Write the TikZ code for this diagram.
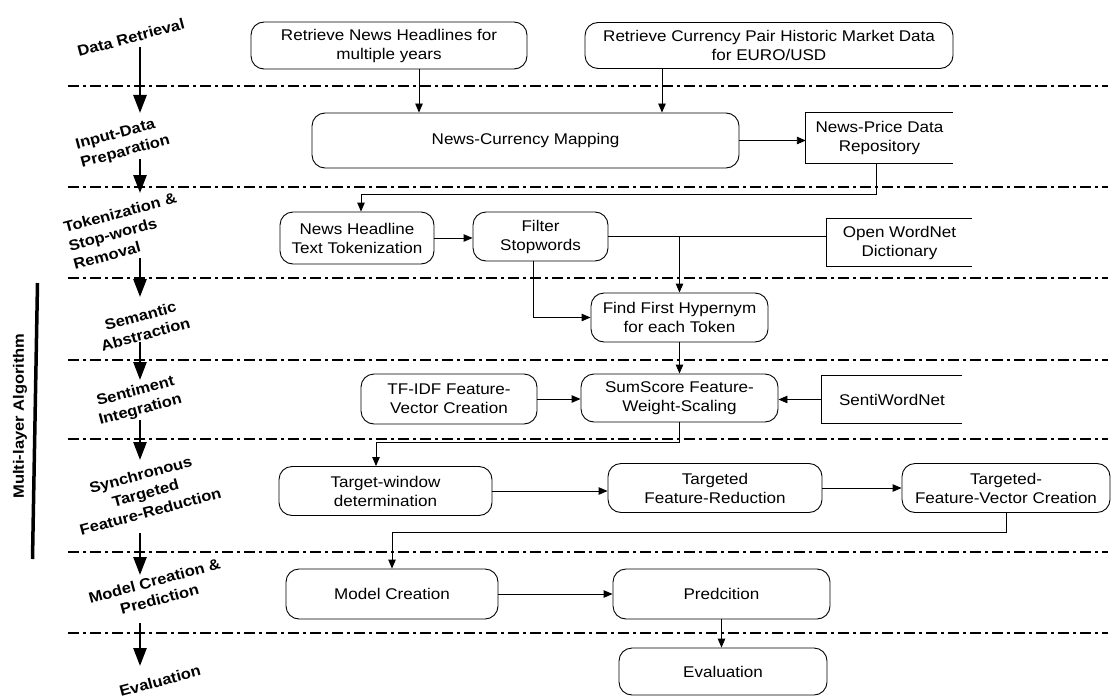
\documentclass[tikz,border=0pt]{standalone}
\usepackage{fontspec}
\setmainfont{Liberation Sans}[FakeStretch=1.1]
\usetikzlibrary{arrows.meta,calc}
\newcommand\storeline[1]{\draw[link] (#1.north east) -- (#1.north west) -- (#1.south west) -- (#1.south east);}
\begin{document}
\begin{tikzpicture}[x=1pt,y=-1pt,
  box/.style={draw, rounded corners=13pt, line width=0.9pt, align=center, font=\fontsize{15.5}{19}\selectfont, inner sep=2pt},
  store/.style={align=center, font=\fontsize{15.5}{19}\selectfont, inner sep=2pt},
  arr/.style={-{Triangle[length=9pt,width=7.5pt]}, line width=0.9pt},
  link/.style={line width=0.9pt},
  sep/.style={line width=1.1pt, dash pattern=on 11pt off 4pt on 3pt off 4pt},
  stage/.style={font=\bfseries\fontsize{15}{19}\selectfont, rotate=15, inner sep=0pt},
  bigarr/.style={-{Triangle[length=18pt,width=13pt]}, line width=2.6pt}]
\useasboundingbox (0,0) rectangle (1115,698);

% separators
\foreach \yy in {86,187,278,360,439,552,633}{
  \draw[sep] (68,\yy) -- (1108,\yy);
}

% left column labels
\node[stage, align=center] (s1) at (131,37.5) {Data Retrieval};
\node[stage, align=left] (s2) at (123,143) {Input-Data\\Preparation};
\node[stage, align=left] (s3) at (125,231) {Tokenization \&\\Stop-words\\Removal};
\node[stage, align=center] (s4) at (143,325) {Semantic\\Abstraction};
\node[stage, align=center] (s5) at (138,401) {Sentiment\\Integration};
\node[stage, align=center] (s6) at (145.5,493) {Synchronous\\Targeted\\Feature-Reduction};
\node[stage, align=center] (s7) at (157,590) {Model Creation \&\\Prediction};
\node[stage, align=center] (s8) at (160,681) {Evaluation};

\coordinate (k1a) at (140,47);  \coordinate (k1b) at (140,113);
\coordinate (k2a) at (140,159); \coordinate (k2b) at (140,193);
\coordinate (k3a) at (140,258); \coordinate (k3b) at (140,297);
\coordinate (k4a) at (140,342); \coordinate (k4b) at (140,380);
\coordinate (k5a) at (140,420); \coordinate (k5b) at (140,460);
\coordinate (k6a) at (140,533); \coordinate (k6b) at (140,575);
\coordinate (k7a) at (140,623); \coordinate (k7b) at (140,666);
\foreach \i in {1,...,7}{ \draw[bigarr] (k\i a) -- (k\i b); }

% multi-layer bracket
\coordinate (mlt) at (37.5,283);
\coordinate (mlb) at (32.5,559);
\draw[line width=3.5pt] (mlt) -- (mlb);
\node[font=\bfseries\fontsize{15}{19}\selectfont, rotate=90] (ml) at (20,416) {Multi-layer Algorithm};

% main boxes
\node[box, minimum width=276pt, minimum height=47pt] (r1) at (389,45.5) {Retrieve News Headlines for\\multiple years};
\node[box, minimum width=368pt, minimum height=46pt] (r2) at (769,45.5) {Retrieve Currency Pair Historic Market Data\\for EURO/USD};
\node[box, minimum width=427pt, minimum height=55pt] (map) at (525.5,140.5) {News-Currency Mapping};
\node[store, minimum width=147pt, minimum height=50pt] (repo) at (879.5,138) {News-Price Data\\Repository};
\storeline{repo}

\node[box, minimum width=154pt, minimum height=52pt] (tok) at (357,238) {News Headline\\Text Tokenization};
\node[box, minimum width=135pt, minimum height=49pt] (filt) at (540.5,236.5) {Filter\\Stopwords};
\node[store, minimum width=145pt, minimum height=47pt] (wn) at (899.5,242.5) {Open WordNet\\Dictionary};
\storeline{wn}

\node[box, minimum width=177pt, minimum height=49pt] (hyp) at (679.5,317.5) {Find First Hypernym\\for each Token};

\node[box, minimum width=176pt, minimum height=50pt] (tfidf) at (449,399) {TF-IDF Feature-\\Vector Creation};
\node[box, minimum width=197pt, minimum height=48pt] (sum) at (679.5,398) {SumScore Feature-\\Weight-Scaling};
\node[store, minimum width=140pt, minimum height=47pt] (senti) at (892,399.5) {SentiWordNet};
\storeline{senti}

\node[box, minimum width=213pt, minimum height=49pt] (tw) at (385.5,491) {Target-window\\determination};
\node[box, minimum width=214pt, minimum height=49pt] (tfr) at (715,488) {Targeted\\Feature-Reduction};
\node[box, minimum width=208pt, minimum height=49pt] (tfv) at (1006,488) {Targeted-\\Feature-Vector Creation};

\node[box, minimum width=212pt, minimum height=50pt] (mc) at (392,594) {Model Creation};
\node[box, minimum width=217pt, minimum height=50pt] (pred) at (721.5,594) {Predcition};
\node[box, minimum width=208pt, minimum height=47pt] (eval) at (723,671.5) {Evaluation};

% connectors
\draw[arr] ([xshift=30pt]r1.south) -- ([xshift=30pt]r1.south |- map.north);
\draw[arr] ([xshift=-107pt]r2.south) -- ([xshift=-107pt]r2.south |- map.north);
\draw[arr] (map.east) -- (map.east -| repo.west);
\draw[arr] ([xshift=-3.5pt]repo.south) -- ++(0,31) -| ([xshift=4pt]tok.north);
\draw[arr] (tok.east) -- (tok.east -| filt.west);
\draw[link] (filt.east) -- (filt.east -| wn.west);
\draw[arr] (filt.east -| hyp.north) -- (hyp.north);
\draw[arr] ([xshift=-7.5pt]filt.south) |- (hyp.west);
\draw[arr] (hyp.south) -- (sum.north);
\draw[arr] (senti.west) -- (senti.west -| sum.east);
\draw[arr] (tfidf.east) -- (tfidf.east -| sum.west);
\draw[arr] (sum.south) -- ++(0,20) -| ([xshift=-9.5pt]tw.north);
\draw[arr] (tw.east) -- (tw.east -| tfr.west);
\draw[arr] (tfr.east) -- (tfr.east -| tfv.west);
\draw[arr] (tfv.south) -- ++(0,19) -| (mc.north);
\draw[arr] (mc.east) -- (mc.east -| pred.west);
\draw[arr] (pred.south) -- (pred.south |- eval.north);
\end{tikzpicture}
\end{document}
